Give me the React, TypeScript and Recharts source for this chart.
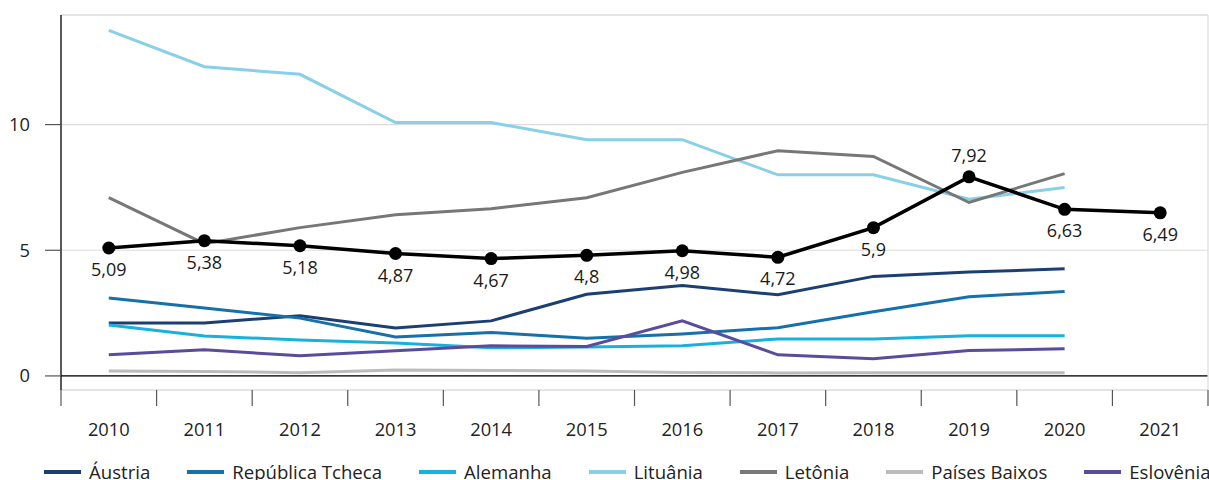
import { LineChart, Line, XAxis, YAxis, CartesianGrid, ReferenceLine, Legend, LabelList } from "recharts";

const years = ["2010", "2011", "2012", "2013", "2014", "2015", "2016", "2017", "2018", "2019", "2020", "2021"];
const austria = [2.11, 2.11, 2.39, 1.91, 2.19, 3.25, 3.6, 3.23, 3.96, 4.13, 4.26, null];
const tcheca = [3.1, 2.7, 2.3, 1.55, 1.73, 1.5, 1.67, 1.92, 2.55, 3.15, 3.36, null];
const alemanha = [2.03, 1.59, 1.43, 1.31, 1.12, 1.15, 1.2, 1.47, 1.47, 1.6, 1.6, null];
const lituania = [13.75, 12.3, 12.0, 10.08, 10.08, 9.4, 9.4, 8.0, 8.0, 7.03, 7.5, null];
const letonia = [7.09, 5.26, 5.9, 6.41, 6.65, 7.09, 8.1, 8.96, 8.73, 6.9, 8.05, null];
const paisesBaixos = [0.2, 0.18, 0.13, 0.24, 0.22, 0.2, 0.14, 0.12, 0.13, 0.13, 0.13, null];
const eslovenia = [0.84, 1.04, 0.8, 1.0, 1.2, 1.17, 2.19, 0.84, 0.68, 1.01, 1.08, null];
const media = [5.09, 5.38, 5.18, 4.87, 4.67, 4.8, 4.98, 4.72, 5.9, 7.92, 6.63, 6.49];

const yTicks = [0, 5, 10];
const yDomain: [number, number] = [-0.56, 14.36];

const series = [
  { key: "austria", name: "Áustria", color: "#1b3f73", values: austria },
  { key: "tcheca", name: "República Tcheca", color: "#1670aa", values: tcheca },
  { key: "alemanha", name: "Alemanha", color: "#18b1de", values: alemanha },
  { key: "lituania", name: "Lituânia", color: "#88cfe8", values: lituania },
  { key: "letonia", name: "Letônia", color: "#777777", values: letonia },
  { key: "paisesBaixos", name: "Países Baixos", color: "#bcbcbe", values: paisesBaixos },
  { key: "eslovenia", name: "Eslovênia", color: "#5b4b9d", values: eslovenia },
];

const data = years.map((year, i) => {
  const row: Record<string, string | number | null> = { year, media: media[i] };
  series.forEach((s) => (row[s.key] = s.values[i]));
  return row;
});

const FONT = "'Open Sans', sans-serif";
const W = 1209;
const H = 480;
const AXIS_W = 61;
const bandWidth = (W - AXIS_W - 1) / years.length;

const XTick = (props: any) => {
  const { x, y, payload, index } = props;
  const half = bandWidth / 2;
  return (
    <g>
      <line x1={x - half} x2={x - half} y1={y} y2={y + 16} stroke="#555" strokeWidth={1.2} />
      {index === years.length - 1 && (
        <line x1={x + half} x2={x + half} y1={y} y2={y + 16} stroke="#555" strokeWidth={1.2} />
      )}
      <text x={x} y={y + 46} textAnchor="middle" fontSize={18.3} fill="#222" fontFamily={FONT}>
        {payload.value}
      </text>
    </g>
  );
};

const renderMediaLabel = (props: any) => {
  const { x, y, value, index } = props;
  const above = index === 9;
  return (
    <text x={x} y={above ? y - 15 : y + 28} textAnchor="middle" fontSize={18} fill="#1a1a1a" fontFamily={FONT}>
      {String(value).replace(".", ",")}
    </text>
  );
};

const LegendContent = () => (
  <div
    style={{
      display: "flex",
      paddingLeft: 44,
      paddingTop: 19,
      fontFamily: FONT,
      fontSize: 18.6,
      color: "#222",
      whiteSpace: "nowrap",
    }}
  >
    {series.map((s) => (
      <div key={s.key} style={{ display: "flex", alignItems: "center", marginRight: 37 }}>
        <span style={{ display: "inline-block", width: 37, height: 4, background: s.color, marginRight: 8 }} />
        {s.name}
      </div>
    ))}
  </div>
);

export default function App() {
  return (
    <div style={{ position: "absolute", left: 0, top: 0, width: W, height: H, overflow: "hidden", background: "#fff" }}>
      <LineChart
        width={W}
        height={H}
        data={data}
        margin={{ top: 15, right: 0, bottom: 0, left: 0 }}
        style={{ fontFamily: FONT }}
      >
        <CartesianGrid vertical={false} stroke="#dcdcdc" strokeWidth={1.2} />
        <XAxis
          dataKey="year"
          scale="band"
          height={50}
          interval={0}
          tickLine={false}
          tickSize={0}
          tickMargin={0}
          axisLine={{ stroke: "#dcdcdc", strokeWidth: 1.2 }}
          tick={<XTick />}
        />
        <YAxis
          width={AXIS_W}
          domain={yDomain}
          ticks={yTicks}
          allowDataOverflow
          tickSize={16}
          tickMargin={15}
          tickLine={{ stroke: "#555", strokeWidth: 1.2 }}
          axisLine={{ stroke: "#000", strokeWidth: 1.3 }}
          tick={{ fontSize: 18.3, fill: "#222", fontFamily: FONT }}
        />
        <YAxis
          yAxisId="r"
          orientation="right"
          width={1}
          domain={yDomain}
          allowDataOverflow
          tick={false}
          tickLine={false}
          axisLine={{ stroke: "#dcdcdc", strokeWidth: 1.2 }}
        />
        <ReferenceLine y={yDomain[1]} stroke="#dcdcdc" strokeWidth={1.2} />
        <ReferenceLine y={0} stroke="#000" strokeWidth={1.3} />
        <Legend verticalAlign="bottom" height={40} wrapperStyle={{ left: 0, width: W }} content={<LegendContent />} />
        {series.map((s) => (
          <Line
            key={s.key}
            type="linear"
            dataKey={s.key}
            name={s.name}
            stroke={s.color}
            strokeWidth={3}
            dot={false}
            activeDot={false}
            isAnimationActive={false}
          />
        ))}
        <Line
          type="linear"
          dataKey="media"
          stroke="#000"
          strokeWidth={3.5}
          dot={{ r: 6.5, fill: "#000", stroke: "#000", strokeWidth: 0 }}
          activeDot={false}
          legendType="none"
          isAnimationActive={false}
        >
          <LabelList dataKey="media" content={renderMediaLabel} />
        </Line>
      </LineChart>
    </div>
  );
}
